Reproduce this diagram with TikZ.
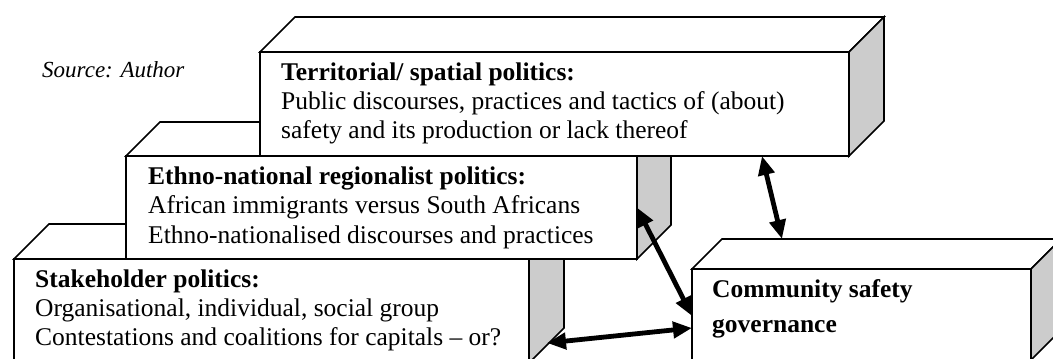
\documentclass[tikz,border=0pt]{standalone}
\usepackage{fontspec}
\setmainfont{Liberation Serif}
\usetikzlibrary{arrows.meta}
\definecolor{sidegray}{HTML}{CCCCCC}

\tikzset{
  frontface/.style={draw=black, line width=1.6pt, fill=white, rectangle,
    inner sep=0pt, outer sep=0pt, anchor=north west},
  topface/.style={draw=black, line width=1.6pt, fill=white, line join=miter},
  sideface/.style={draw=black, line width=1.6pt, fill=sidegray, line join=miter},
  % text blocks are placed by the baseline of their last line
  boxtext/.style={anchor=base west, inner sep=0pt, align=left,
    font=\fontsize{25.5}{29}\selectfont},
  link/.style={line width=4.8pt,
    {Triangle[length=19pt,width=16pt]}-{Triangle[length=19pt,width=16pt]}}
}

% top and right faces of a block whose front face is node #1, depth #2
\newcommand\blockfaces[2]{%
  \draw[topface] (#1.north west) -- ++(#2,-#2)
    -- ([shift={(#2,-#2)}]#1.north east) -- (#1.north east) -- cycle;
  \draw[sideface] (#1.north east) -- ++(#2,-#2)
    -- ([shift={(#2,-#2)}]#1.south east) -- (#1.south east) -- cycle;
}

\begin{document}
\begin{tikzpicture}[x=1pt, y=-1pt]
\useasboundingbox (0,0) rectangle (1053,359);
\clip (0,0) rectangle (1053,359);

% blocks, back to front
\node[frontface, minimum width=515pt, minimum height=104pt] (stake) at (14,259) {};
\blockfaces{stake}{35}
\node[frontface, minimum width=511pt, minimum height=103pt] (ethno) at (126,156) {};
\blockfaces{ethno}{34}
\node[frontface, minimum width=589pt, minimum height=104pt] (terr) at (260,52) {};
\blockfaces{terr}{35}
\node[frontface, minimum width=339pt, minimum height=91pt] (comm) at (692,269) {};
\blockfaces{comm}{30}

% texts
\node[anchor=base west, inner sep=0pt, font=\fontsize{23}{27}\selectfont\itshape]
  (src) at (42,77) {Source: Author};
\node[boxtext] (terrtext) at (281,138) {\textbf{Territorial/ spatial politics:}\\
  Public discourses, practices and tactics of (about)\\
  safety and its production or lack thereof};
\node[boxtext, font=\fontsize{25.5}{29.5}\selectfont] (ethnotext) at (148,243)
  {\textbf{Ethno-national regionalist politics:}\\
  African immigrants versus South Africans\\
  Ethno-nationalised discourses and practices};
\node[boxtext] (staketext) at (35,345) {\textbf{Stakeholder politics:}\\
  Organisational, individual, social group\\
  Contestations and coalitions for capitals -- or?};
\node[boxtext, font=\fontsize{25.5}{35}\selectfont\bfseries] (commtext) at (712,332)
  {Community safety\\ governance};

% connector end points
\coordinate (terrfoot) at ([xshift=502pt]terr.south west);
\coordinate (commtop) at ([shift={(90,-30)}]comm.north west);
\coordinate (commleftA) at ([yshift=-1.5pt]comm.west);
\coordinate (commleftB) at ([yshift=-13.5pt]comm.west);
\coordinate (stakeside) at ([shift={(18,-20)}]stake.south east);

% connectors
\draw[link] (terrfoot) -- (commtop);
\draw[link] (ethno.east) -- (commleftA);
\draw[link] (stakeside) -- (commleftB);
\end{tikzpicture}
\end{document}
